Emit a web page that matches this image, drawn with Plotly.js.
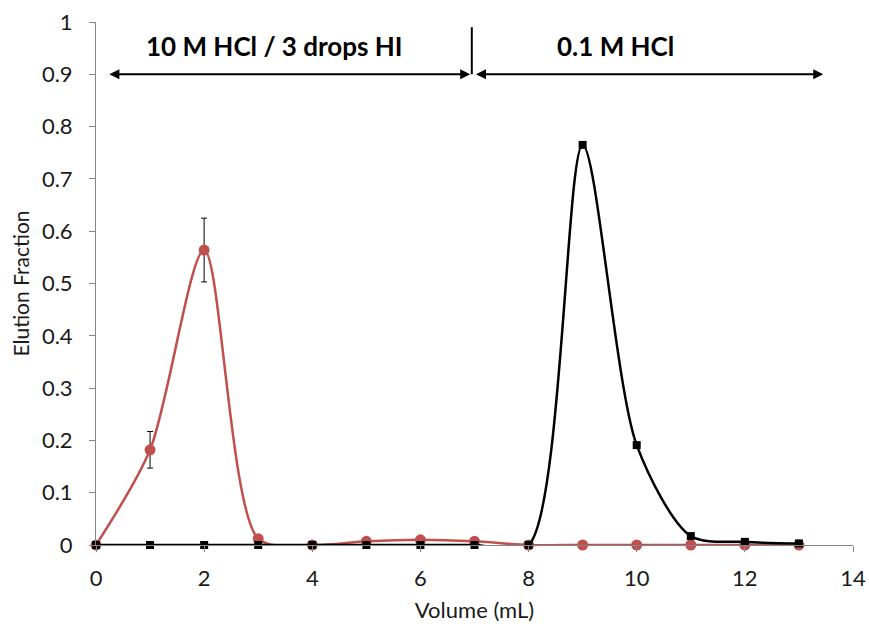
<!DOCTYPE html>
<html>
<head>
<meta charset="utf-8">
<script src="https://cdn.plot.ly/plotly-3.0.1.min.js"></script>
<style>html,body{margin:0;padding:0;background:#fff;}#chart{width:869px;height:626px;}</style>
</head>
<body>
<div id="chart"></div>
<script>
// Volume (mL)
const volume = [0,1,2,3,4,5,6,7,8,9,10,11,12,13];
// Red series (circles) elution fraction
const redFraction = [0,0.182,0.564,0.012,0,0.007,0.010,0.007,0,0,0,0,0,0];
// Error bars for red series
const redError = [0,0.035,0.061,0,0,0,0,0,0,0,0,0,0,0];
// Black series (squares) elution fraction
const blackFraction = [0,0,0,0,0,0,0,0,0,0.765,0.191,0.017,0.006,0.003];

const xTicks = [0,2,4,6,8,10,12,14];
const yTicks = [0,0.1,0.2,0.3,0.4,0.5,0.6,0.7,0.8,0.9,1];

// Region labels
const regionLabels = ["10 M HCl / 3 drops HI", "0.1 M HCl"];
const regionLabelX = [3.3, 9.6];
const regionStart = [0.22, 7.0];
const regionEnd = [6.92, 13.45];
const regionDivider = 6.95;

const font = "Lato, 'Open Sans', sans-serif";
const textColor = '#1a1a1a';

const traces = [
  {
    x: volume, y: redFraction, type: 'scatter', mode: 'lines+markers',
    line: {color: '#C0504D', width: 2.5, shape: 'spline', smoothing: 0.8},
    marker: {color: '#C0504D', size: 11, symbol: 'circle'},
    error_y: {type: 'data', array: redError, visible: true, color: '#000', thickness: 1, width: 3},
    cliponaxis: false, showlegend: false
  },
  {
    x: volume, y: blackFraction, type: 'scatter', mode: 'lines+markers',
    line: {color: '#000000', width: 2.5, shape: 'spline', smoothing: 0.8},
    marker: {color: '#000000', size: 8, symbol: 'square'},
    cliponaxis: false, showlegend: false
  }
];

const annotations = [];
for (let i = 0; i < regionLabels.length; i++) {
  annotations.push({
    x: regionLabelX[i], y: 0.955, xref: 'x', yref: 'y', text: '<b>' + regionLabels[i] + '</b>',
    showarrow: false, font: {family: font, size: 26, color: '#000'}
  });
  annotations.push({
    x: regionEnd[i], y: 0.9, ax: regionStart[i], ay: 0.9, xref: 'x', yref: 'y', axref: 'x', ayref: 'y',
    text: '', showarrow: true, arrowhead: 2, startarrowhead: 2, arrowside: 'end+start',
    arrowsize: 1, startarrowsize: 1, arrowwidth: 2, arrowcolor: '#000'
  });
}

const layout = {
  width: 869, height: 626,
  margin: {l: 96, r: 16, t: 22, b: 81},
  paper_bgcolor: '#fff', plot_bgcolor: '#fff',
  font: {family: font, color: textColor, size: 20},
  xaxis: {
    range: [0, 14], tickvals: xTicks, ticktext: xTicks.map(String),
    showgrid: false, zeroline: false, showline: true, linecolor: '#868686', linewidth: 1,
    ticks: 'outside', ticklen: 6, tickcolor: '#868686', ticklabelstandoff: 8,
    tickfont: {family: font, size: 22, color: textColor},
    title: {text: 'Volume (mL)', font: {family: font, size: 22, color: textColor}, standoff: 12}
  },
  yaxis: {
    range: [0, 1], tickvals: yTicks, ticktext: yTicks.map(String),
    showgrid: false, zeroline: false, showline: true, linecolor: '#868686', linewidth: 1,
    ticks: 'outside', ticklen: 6, tickcolor: '#868686', ticklabelstandoff: 12,
    tickfont: {family: font, size: 22, color: textColor},
    title: {text: 'Elution Fraction', font: {family: font, size: 21, color: textColor}, standoff: 6}
  },
  shapes: [
    {type: 'line', xref: 'x', yref: 'y', x0: regionDivider, x1: regionDivider, y0: 0.9, y1: 0.99,
     line: {color: '#000', width: 2}}
  ],
  annotations: annotations
};

Plotly.newPlot('chart', traces, layout, {displayModeBar: false, staticPlot: true});
</script>
</body>
</html>
